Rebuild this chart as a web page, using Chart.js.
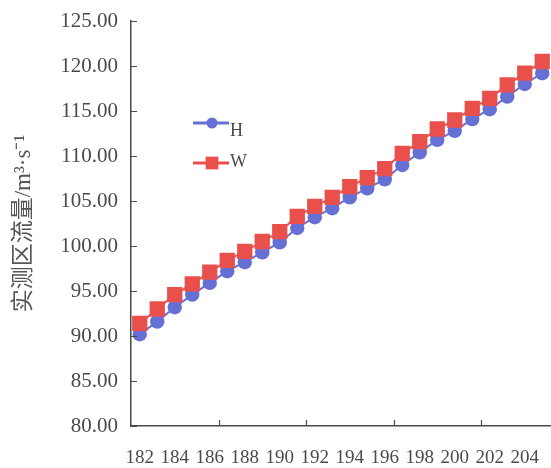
<!DOCTYPE html>
<html>
<head>
<meta charset="utf-8">
<script src="https://cdn.jsdelivr.net/npm/chart.js@4.4.1/dist/chart.umd.min.js"></script>
<style>
  html, body { margin: 0; padding: 0; background: #fff; overflow: hidden; }
  #wrap { width: 551px; height: 468px; }
</style>
</head>
<body>
<div id="wrap"><canvas id="flowChart"></canvas></div>
<script>
// categories along the x axis
const categories = ['182', '183', '184', '185', '186', '187', '188', '189', '190', '191', '192', '193',
                    '194', '195', '196', '197', '198', '199', '200', '201', '202', '203', '204', '205'];

// series values
const seriesH = [90.2, 91.6, 93.2, 94.6, 95.9, 97.2, 98.2, 99.3, 100.4, 102.0, 103.2, 104.2,
                 105.4, 106.4, 107.4, 109.0, 110.4, 111.8, 112.8, 114.1, 115.2, 116.6, 118.0, 119.2];
const seriesW = [91.4, 93.0, 94.6, 95.8, 97.1, 98.4, 99.4, 100.5, 101.6, 103.3, 104.4, 105.4,
                 106.6, 107.6, 108.6, 110.3, 111.6, 113.0, 114.0, 115.3, 116.4, 117.9, 119.2, 120.5];

// y tick labels
const yTicks = [80, 85, 90, 95, 100, 105, 110, 115, 120, 125];

const axisColor = '#4a4a4a';
const textColor = '#4a4a4a';
const blue = '#6670d4';
const red = '#e9504c';

// tick marks pointing into the plot, like the original
const innerTicks = {
    id: 'innerTicks',
    afterDraw(chart) {
        const ctx = chart.ctx;
        const x = chart.scales.x, y = chart.scales.y;
        const area = chart.chartArea;
        ctx.save();
        ctx.strokeStyle = axisColor;
        ctx.lineWidth = 1.2;
        ctx.beginPath();
        yTicks.forEach(v => {
            const py = Math.round(y.getPixelForValue(v)) + 0.5;
            ctx.moveTo(area.left, py);
            ctx.lineTo(area.left + 6, py);
        });
        for (let k = 5; k < categories.length; k += 5) {
            const px = Math.round((x.getPixelForValue(k - 1) + x.getPixelForValue(k)) / 2) + 0.5;
            ctx.moveTo(px, area.bottom);
            ctx.lineTo(px, area.bottom - 6);
        }
        ctx.stroke();
        ctx.restore();
    }
};

// legend drawn inside the plot area
const innerLegend = {
    id: 'innerLegend',
    afterDraw(chart) {
        const ctx = chart.ctx;
        const area = chart.chartArea;
        const x0 = area.left + 62, x1 = area.left + 98, xm = area.left + 81;
        const rows = [{ ds: chart.data.datasets[0], y: area.top + 102, ty: area.top + 110 },
                      { ds: chart.data.datasets[1], y: area.top + 142, ty: area.top + 141 }];
        ctx.save();
        rows.forEach(r => {
            ctx.strokeStyle = r.ds.borderColor;
            ctx.fillStyle = r.ds.backgroundColor;
            ctx.lineWidth = 3;
            ctx.beginPath();
            ctx.moveTo(x0, r.y);
            ctx.lineTo(x1, r.y);
            ctx.stroke();
            Chart.helpers.drawPoint(ctx, {
                pointStyle: r.ds.pointStyle,
                radius: r.ds.pointStyle === 'rect' ? 9 : 5.5,
                borderWidth: 0
            }, xm, r.y);
            ctx.fillStyle = textColor;
            ctx.font = '18px "Liberation Serif", serif';
            ctx.textBaseline = 'middle';
            ctx.fillText(r.ds.label, x1 + 1, r.ty);
        });
        ctx.restore();
    }
};

new Chart(document.getElementById('flowChart'), {
    type: 'line',
    data: {
        labels: categories,
        datasets: [
            {
                label: 'H',
                data: seriesH,
                borderColor: blue,
                backgroundColor: blue,
                borderWidth: 2,
                pointStyle: 'circle',
                pointRadius: 7.2,
                pointBorderWidth: 0,
                order: 1
            },
            {
                label: 'W',
                data: seriesW,
                borderColor: red,
                backgroundColor: red,
                borderWidth: 2,
                pointStyle: 'rect',
                pointRadius: 10.8,
                pointBorderWidth: 0,
                order: 0
            }
        ]
    },
    options: {
        responsive: true,
        maintainAspectRatio: false,
        animation: false,
        layout: { autoPadding: false, padding: { top: 21, right: 0, left: 0, bottom: 0 } },
        plugins: {
            legend: { display: false },
            tooltip: { enabled: false }
        },
        scales: {
            x: {
                type: 'category',
                offset: true,
                grid: { display: true, drawOnChartArea: false, drawTicks: true, tickLength: 21, tickColor: 'rgba(0,0,0,0)' },
                border: { display: true, color: axisColor, width: 1.5 },
                ticks: {
                    autoSkip: false,
                    maxRotation: 0,
                    padding: 0,
                    color: textColor,
                    font: { family: '"Liberation Serif", serif', size: 19 },
                    callback: function(value, index) {
                        return index % 2 === 0 ? this.getLabelForValue(value) : '';
                    }
                },
                afterFit: scale => { scale.height = 42; }
            },
            y: {
                min: 80,
                max: 125,
                grid: { display: true, drawOnChartArea: false, drawTicks: true, tickLength: 13, tickColor: 'rgba(0,0,0,0)' },
                border: { display: true, color: axisColor, width: 1.5 },
                afterBuildTicks: scale => { scale.ticks = yTicks.map(v => ({ value: v })); },
                ticks: {
                    padding: 0,
                    color: textColor,
                    font: { family: '"Liberation Serif", serif', size: 21 },
                    callback: value => value.toFixed(2)
                },
                title: {
                    display: true,
                    text: '实测区流量/m³·s⁻¹',
                    color: '#555',
                    padding: { top: 10, bottom: 0 },
                    font: { family: '"Liberation Serif", "Noto Sans CJK SC", serif', size: 23 }
                },
                afterFit: scale => { scale.width = 131; }
            }
        }
    },
    plugins: [innerTicks, innerLegend]
});
</script>
</body>
</html>
